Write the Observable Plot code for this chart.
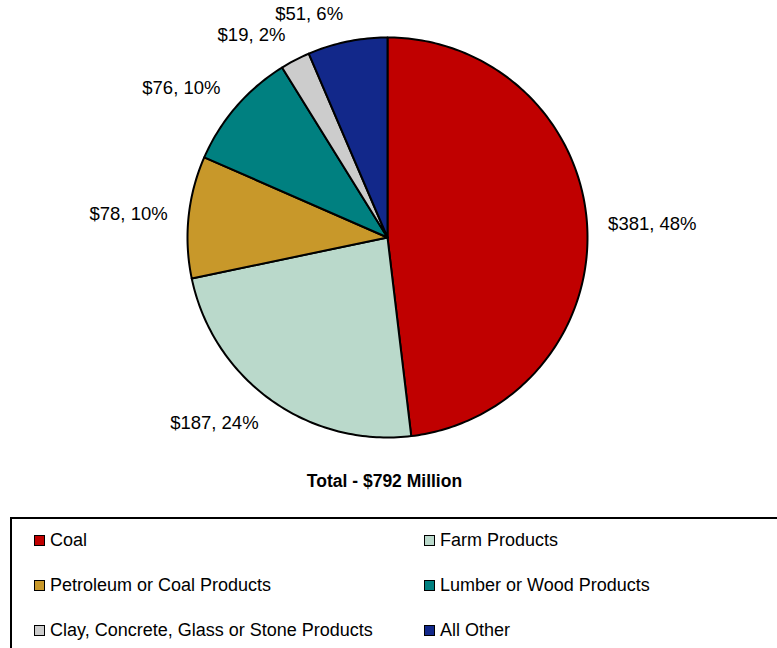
<!DOCTYPE html>
<html>
<head>
<meta charset="utf-8">
<script src="https://cdn.jsdelivr.net/npm/d3@7"></script>
<script src="https://cdn.jsdelivr.net/npm/@observablehq/plot@0.6"></script>
<style>
  html, body { margin: 0; padding: 0; background: #fff; overflow: hidden; width: 777px; height: 648px; }
  body { font-family: "Liberation Sans", Arial, sans-serif; color: #000; }
  #chart svg { display: block; }
  #total { height: 26px; line-height: 26px; text-align: center; font-weight: bold; font-size: 17.5px; padding-right: 8px; }
  #legend { margin-top: 23px; margin-left: 10px; width: 820px; border: 2px solid #000; box-sizing: border-box;
            padding: 10px 0 0 22px; display: grid; grid-template-columns: 390px 390px; grid-auto-rows: 45px; }
  .item { display: flex; align-items: flex-start; font-size: 18px; line-height: 22px; }
  .sw { width: 9px; height: 9px; border: 1.5px solid #000; margin: 6px 5px 0 0; flex: none; }
</style>
</head>
<body>
<div id="chart"></div>
<div id="total"></div>
<div id="legend"></div>
<script>
const categories = ["Coal", "Farm Products", "Petroleum or Coal Products", "Lumber or Wood Products", "Clay, Concrete, Glass or Stone Products", "All Other"];
const values = [381, 187, 78, 76, 19, 51];
const percents = [48, 24, 10, 10, 2, 6];
const colors = ["#C00000", "#BAD9CB", "#C8982A", "#008080", "#CCCCCC", "#12288A"];
const legendOrder = ["Coal", "Farm Products", "Petroleum or Coal Products", "Lumber or Wood Products", "Clay, Concrete, Glass or Stone Products", "All Other"];
const totalLabel = "Total - $792 Million";

const total = d3.sum(values);
const slices = [];
let acc = 0;
categories.forEach((name, i) => {
  const a0 = acc / total * 2 * Math.PI;
  acc += values[i];
  const a1 = acc / total * 2 * Math.PI;
  slices.push({name, value: values[i], pct: percents[i], a0, a1, mid: (a0 + a1) / 2});
});

// polygon points for each slice
const pts = [];
for (const s of slices) {
  pts.push({name: s.name, x: 0, y: 0});
  const n = Math.max(2, Math.ceil((s.a1 - s.a0) / (Math.PI / 180)));
  for (let k = 0; k <= n; k++) {
    const a = s.a0 + (s.a1 - s.a0) * k / n;
    pts.push({name: s.name, x: Math.sin(a), y: Math.cos(a)});
  }
}

const RX = 1.105, RY = 1.14;
const labels = slices.map(s => ({
  text: `$${s.value}, ${s.pct}%`,
  x: RX * Math.sin(s.mid),
  y: RY * Math.cos(s.mid),
  right: Math.sin(s.mid) >= 0
}));

const plot = Plot.plot({
  width: 777,
  height: 468,
  marginLeft: 187,
  marginRight: 190,
  marginTop: 37,
  marginBottom: 31,
  x: {domain: [-1, 1], axis: null},
  y: {domain: [-1, 1], axis: null},
  color: {domain: categories, range: colors},
  style: {fontFamily: "'Liberation Sans', Arial, sans-serif", overflow: "visible"},
  marks: [
    Plot.line(pts, {x: "x", y: "y", z: "name", fill: "name", stroke: "#000", strokeWidth: 2, curve: "linear-closed", strokeLinejoin: "round"}),
    Plot.text(labels.filter(d => d.right), {x: "x", y: "y", text: "text", textAnchor: "start", fontSize: 18.5, fill: "#000"}),
    Plot.text(labels.filter(d => !d.right), {x: "x", y: "y", text: "text", textAnchor: "end", fontSize: 18.5, fill: "#000"})
  ]
});
document.getElementById("chart").appendChild(plot);
document.getElementById("total").textContent = totalLabel;

const leg = document.getElementById("legend");
for (const name of legendOrder) {
  const i = categories.indexOf(name);
  const item = document.createElement("div");
  item.className = "item";
  const sw = document.createElement("span");
  sw.className = "sw";
  sw.style.background = colors[i];
  const t = document.createElement("span");
  t.textContent = name;
  item.appendChild(sw);
  item.appendChild(t);
  leg.appendChild(item);
}
</script>
</body>
</html>
